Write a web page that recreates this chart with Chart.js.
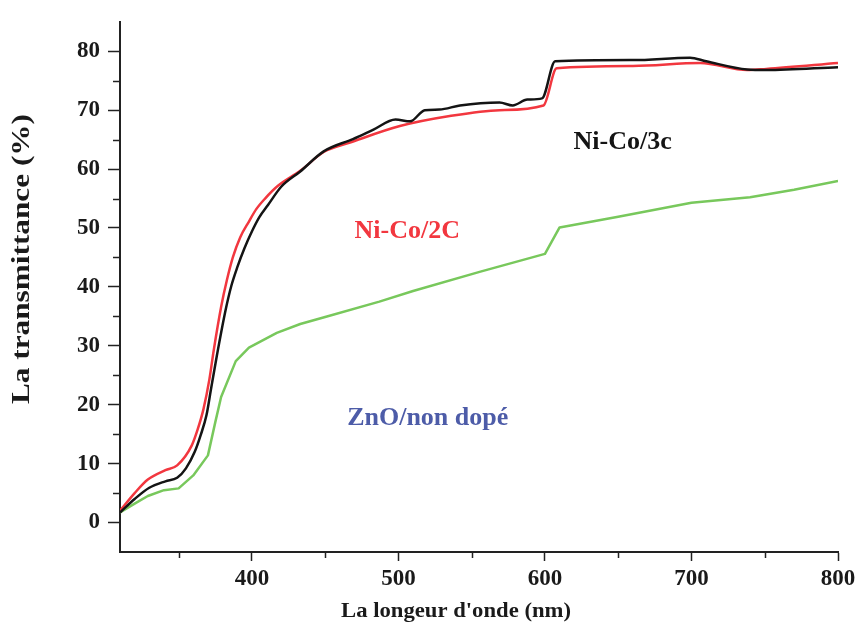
<!DOCTYPE html>
<html>
<head>
<meta charset="utf-8">
<script src="https://cdn.jsdelivr.net/npm/chart.js@4"></script>
<style>
html, body { margin: 0; padding: 0; background: #fff; }
#wrap { width: 864px; height: 634px; position: relative; }
</style>
</head>
<body>
<div id="wrap"><canvas id="chart"></canvas></div>
<script>
// wavelength (nm) and transmittance (%)
const wlNiCo3 = [310, 320, 330, 341, 349, 355, 361, 365, 369, 372, 376, 382, 386, 390, 395, 400, 405, 411, 420, 433, 449, 469, 483, 498, 508, 518, 528, 542, 569, 578, 588, 598, 607, 660, 699, 710, 738, 751, 800];
const tNiCo3  = [1.7, 4.0, 5.9, 7.0, 7.6, 9.2, 12, 14.8, 18.2, 22.5, 28.2, 36, 40.2, 43.3, 46.6, 49.4, 51.8, 53.9, 57, 59.6, 63, 65.1, 66.7, 68.4, 68.1, 70, 70.1, 70.8, 71.3, 70.8, 71.8, 72, 78.3, 78.5, 78.9, 78.3, 76.9, 76.8, 77.3];

const wlNiCo2 = [310, 320, 329, 341, 349, 359, 363, 367, 371, 374, 379, 383, 387, 392, 398, 403, 409, 418, 433, 449, 467, 501, 535, 569, 599, 608, 660, 706, 738, 751, 800];
const tNiCo2  = [2.0, 5.0, 7.3, 8.9, 9.7, 13.1, 15.8, 19.3, 24.3, 29.3, 36.6, 41.2, 45, 48.4, 51.1, 53.2, 55, 57.2, 59.7, 62.9, 64.5, 67.3, 69, 70, 70.8, 77.1, 77.5, 78, 76.8, 77, 78];

const wlZnO = [310, 320, 329, 340, 350, 360, 370, 375, 379, 389, 398, 417, 433, 450, 487, 510, 556, 600, 610, 650, 700, 740, 770, 800];
const tZnO  = [1.7, 3.2, 4.5, 5.5, 5.8, 8.0, 11.4, 17, 21.3, 27.4, 29.7, 32.2, 33.7, 34.9, 37.5, 39.3, 42.6, 45.6, 50.1, 51.9, 54.3, 55.2, 56.5, 58];

const xTicks = [400, 500, 600, 700, 800];
const yTicks = [0, 10, 20, 30, 40, 50, 60, 70, 80];
const xMinor = [350, 450, 550, 650, 750];
const yMinor = [5, 15, 25, 35, 45, 55, 65, 75];

const seriesNames = ['Ni-Co/3c', 'Ni-Co/2C', 'ZnO/non dopé'];
const seriesColors = ['#141414', '#f2373f', '#78c85c'];

// in-plot labels: text, wavelength, transmittance, colour
const noteText = ['Ni-Co/3c', 'Ni-Co/2C', 'ZnO/non dopé'];
const noteX = [653, 506, 520];
const noteY = [64.6, 49.4, 17.7];
const noteColor = ['#141414', '#f2373f', '#4d5ca8'];

const serif = "'Liberation Serif', 'Times New Roman', serif";

function pts(xs, ys) {
  return xs.map((x, i) => ({ x: x, y: ys[i] }));
}

function stretchText(ctx, text, cx, cy, width, rot) {
  ctx.save();
  ctx.translate(cx, cy);
  ctx.rotate(rot);
  const w = ctx.measureText(text).width;
  ctx.scale(width / w, 1);
  ctx.textAlign = 'center';
  ctx.textBaseline = 'middle';
  ctx.fillText(text, 0, 0);
  ctx.restore();
}

const extras = {
  id: 'extras',
  afterDraw(chart) {
    const ctx = chart.ctx;
    const x = chart.scales.x, y = chart.scales.y;
    const area = chart.chartArea;
    ctx.save();
    // minor ticks
    ctx.strokeStyle = '#222';
    ctx.lineWidth = 1.5;
    xMinor.forEach(v => {
      const px = Math.round(x.getPixelForValue(v)) + 0.5;
      ctx.beginPath();
      ctx.moveTo(px, area.bottom);
      ctx.lineTo(px, area.bottom + 6);
      ctx.stroke();
    });
    yMinor.forEach(v => {
      const py = Math.round(y.getPixelForValue(v)) + 0.5;
      ctx.beginPath();
      ctx.moveTo(area.left, py);
      ctx.lineTo(area.left - 7, py);
      ctx.stroke();
    });
    // labels inside the plot
    ctx.font = "bold 26px " + serif;
    ctx.textAlign = 'center';
    ctx.textBaseline = 'middle';
    noteText.forEach((t, i) => {
      ctx.fillStyle = noteColor[i];
      ctx.fillText(t, x.getPixelForValue(noteX[i]), y.getPixelForValue(noteY[i]));
    });
    // axis titles
    ctx.fillStyle = '#1a1a1a';
    ctx.font = "bold 22px " + serif;
    stretchText(ctx, "La longeur d'onde (nm)", 456, 611, 230, 0);
    ctx.font = "bold 25px " + serif;
    stretchText(ctx, "La transmittance (%)", 23, 259, 290, -Math.PI / 2);
    ctx.restore();
  }
};

new Chart(document.getElementById('chart'), {
  type: 'line',
  data: {
    datasets: [
      { label: seriesNames[0], data: pts(wlNiCo3, tNiCo3), borderColor: seriesColors[0], cubicInterpolationMode: 'monotone' },
      { label: seriesNames[1], data: pts(wlNiCo2, tNiCo2), borderColor: seriesColors[1], cubicInterpolationMode: 'monotone' },
      { label: seriesNames[2], data: pts(wlZnO, tZnO), borderColor: seriesColors[2], tension: 0 }
    ]
  },
  options: {
    responsive: true,
    maintainAspectRatio: false,
    animation: false,
    layout: { padding: { top: 14, right: 26, left: 0, bottom: 0 } },
    elements: {
      point: { radius: 0 },
      line: { borderWidth: 2.5, borderJoinStyle: 'round', fill: false }
    },
    plugins: { legend: { display: false }, tooltip: { enabled: false } },
    scales: {
      x: {
        type: 'linear',
        min: 310,
        max: 800,
        afterBuildTicks: s => { s.ticks = xTicks.map(v => ({ value: v })); },
        afterFit: s => { s.height = 82; },
        border: { display: true, color: '#222', width: 2 },
        grid: { drawOnChartArea: false, drawTicks: true, tickLength: 9, tickColor: '#222', tickWidth: 1.5 },
        ticks: { color: '#1a1a1a', padding: 4, maxRotation: 0, font: { family: serif, size: 23, weight: 'bold' } }
      },
      y: {
        min: -5,
        max: 85,
        afterBuildTicks: s => { s.ticks = yTicks.map(v => ({ value: v })); },
        afterFit: s => { s.width = 120; },
        border: { display: true, color: '#222', width: 2 },
        grid: { drawOnChartArea: false, drawTicks: true, tickLength: 12, tickColor: '#222', tickWidth: 1.5 },
        ticks: { color: '#1a1a1a', padding: 8, font: { family: serif, size: 23, weight: 'bold' } }
      }
    }
  },
  plugins: [extras]
});
</script>
</body>
</html>
